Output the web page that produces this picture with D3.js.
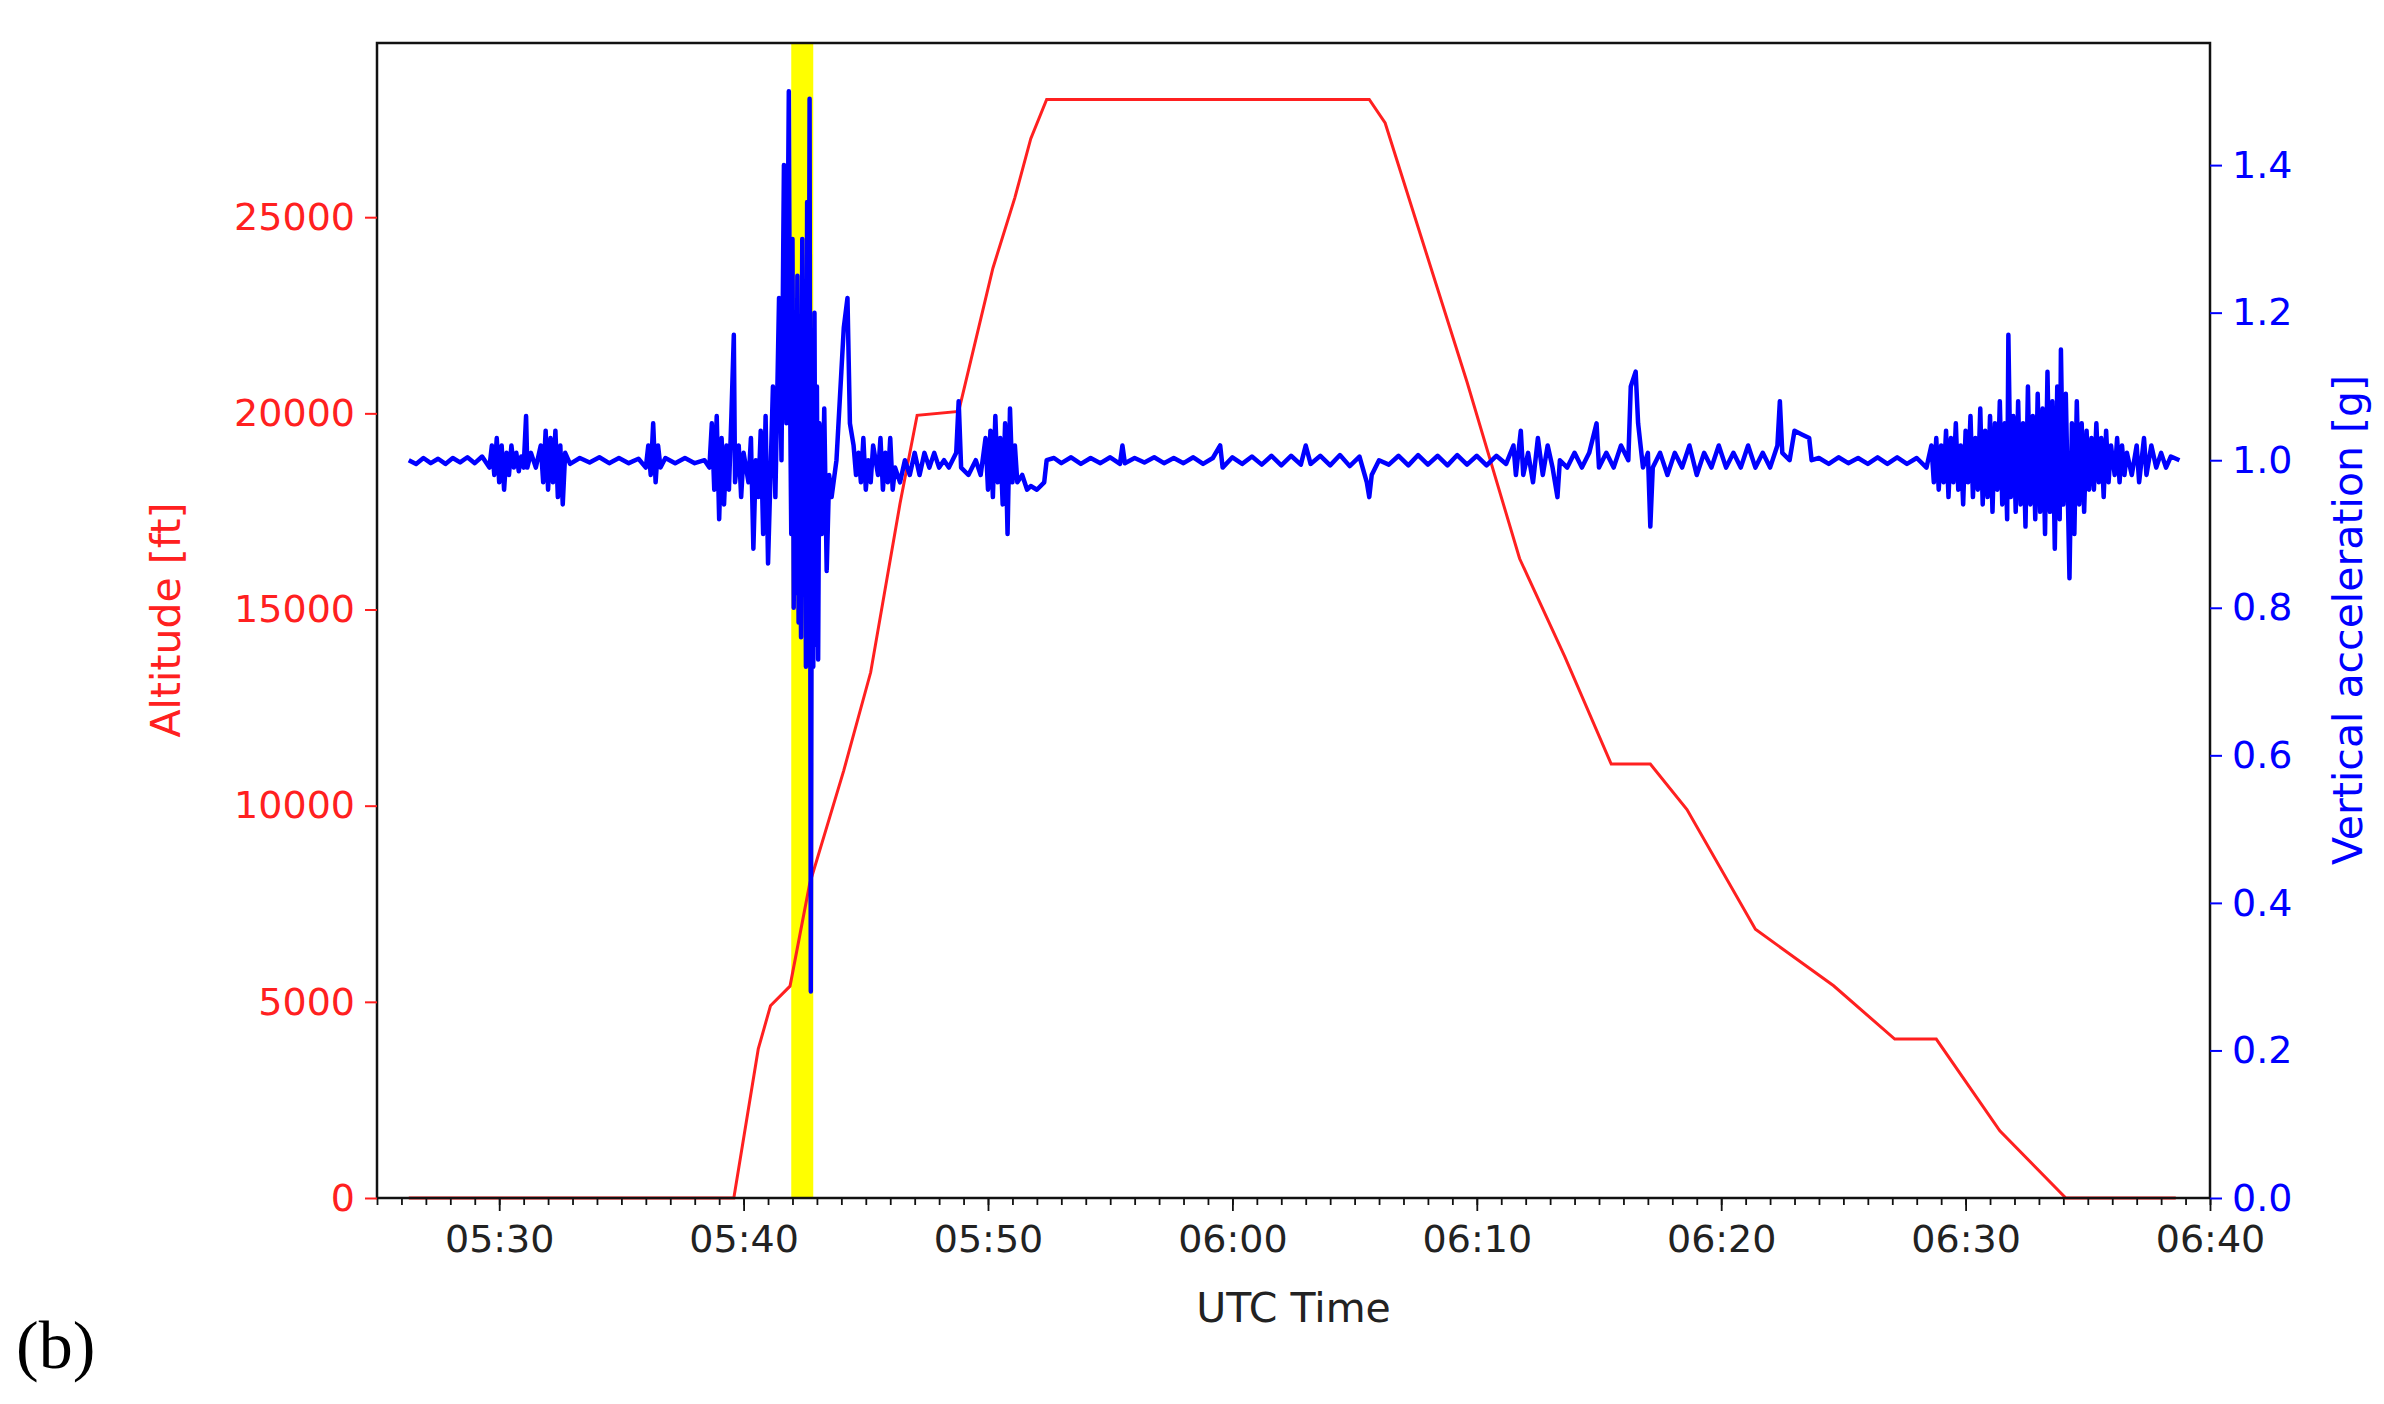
<!DOCTYPE html>
<html><head><meta charset="utf-8">
<script src="https://cdn.jsdelivr.net/npm/d3@7"></script>
<style>body{margin:0;background:#fff}text{font-family:"DejaVu Sans",sans-serif}</style>
</head><body><svg id="c" width="2384" height="1404"></svg>
<script>
// minutes after 05:25 UTC
const altTime = [1.3,14.6,15.6,16.1,16.9,17.7,19.1,20.2,21.4,22.1,23.8,25.2,26.1,26.75,27.4,40.6,41.25,44.6,46.75,48.6,50.5,52.1,53.6,56.4,59.6,62.1,63.8,66.4,69.1,73.6];
const altValue = [0,0,3800,4900,5400,8000,10900,13400,17700,19950,20050,23700,25500,27000,28000,28000,27400,20800,16300,13800,11060,11060,9900,6850,5410,4050,4050,1710,0,0];
const acc = [
[1.3,1.0],[1.6,0.995],[1.9,1.003],[2.2,0.996],[2.5,1.002],[2.8,0.995],[3.1,1.003],[3.4,0.997],[3.7,1.004],[4.0,0.996],[4.3,1.005],[4.6,0.99],[4.7,1.02],[4.8,0.98],[4.9,1.03],[5.0,0.97],[5.1,1.02],[5.2,0.96],[5.3,1.01],[5.4,0.98],[5.5,1.02],[5.6,0.99],[5.7,1.01],[5.8,0.985],[5.9,1.005],[6.0,0.99],[6.1,1.06],[6.15,0.99],[6.3,1.01],[6.5,0.99],[6.7,1.02],[6.8,0.97],[6.9,1.04],[7.0,0.96],[7.1,1.03],[7.2,0.97],[7.3,1.04],[7.4,0.95],[7.5,1.02],[7.6,0.94],[7.7,1.01],[7.9,0.995],[8.3,1.003],[8.7,0.997],[9.1,1.004],[9.5,0.996],[9.9,1.003],[10.3,0.996],[10.7,1.002],[11.0,0.99],[11.1,1.02],[11.2,0.98],[11.3,1.05],[11.4,0.97],[11.5,1.02],[11.6,0.99],[11.8,1.003],[12.2,0.996],[12.6,1.003],[13.0,0.996],[13.4,1.0],[13.6,0.99],[13.7,1.05],[13.8,0.96],[13.9,1.06],[14.0,0.92],[14.1,1.03],[14.2,0.94],[14.3,1.02],[14.4,0.96],[14.5,1.06],[14.6,1.17],[14.65,0.97],[14.8,1.02],[14.9,0.95],[15.0,1.01],[15.2,0.97],[15.3,1.03],[15.4,0.88],[15.5,1.0],[15.6,0.95],[15.7,1.04],[15.8,0.9],[15.9,1.06],[16.0,0.86],[16.1,0.98],[16.2,1.1],[16.3,0.95],[16.45,1.22],[16.55,1.0],[16.65,1.4],[16.75,1.05],[16.85,1.5],[16.9,1.1],[16.95,0.9],[17.0,1.3],[17.05,0.8],[17.1,1.15],[17.15,0.82],[17.2,1.25],[17.25,0.78],[17.3,1.05],[17.35,0.76],[17.4,1.3],[17.45,0.9],[17.5,1.2],[17.55,0.72],[17.6,1.35],[17.65,0.85],[17.7,1.49],[17.75,0.28],[17.8,1.1],[17.85,0.72],[17.9,1.2],[17.95,0.75],[18.0,1.1],[18.05,0.73],[18.1,1.05],[18.2,0.9],[18.3,1.07],[18.4,0.85],[18.5,0.98],[18.6,0.95],[18.8,1.0],[19.0,1.12],[19.1,1.18],[19.25,1.22],[19.35,1.05],[19.5,1.02],[19.6,0.98],[19.7,1.01],[19.8,0.97],[19.9,1.03],[20.0,0.96],[20.1,1.0],[20.2,0.97],[20.3,1.02],[20.5,0.98],[20.6,1.03],[20.7,0.96],[20.8,1.01],[20.9,0.97],[21.0,1.03],[21.1,0.96],[21.2,0.99],[21.4,0.97],[21.6,1.0],[21.8,0.98],[22.0,1.01],[22.2,0.98],[22.4,1.01],[22.6,0.99],[22.8,1.01],[23.0,0.99],[23.2,1.0],[23.4,0.99],[23.7,1.01],[23.8,1.08],[23.9,0.99],[24.2,0.98],[24.5,1.0],[24.7,0.98],[24.9,1.03],[25.0,0.96],[25.1,1.04],[25.2,0.95],[25.3,1.06],[25.4,0.97],[25.5,1.03],[25.6,0.94],[25.7,1.05],[25.8,0.9],[25.9,1.07],[26.0,0.97],[26.1,1.02],[26.2,0.97],[26.4,0.98],[26.6,0.96],[26.75,0.965],[27.0,0.96],[27.3,0.97],[27.4,1.0],[27.7,1.003],[28.0,0.996],[28.4,1.004],[28.8,0.995],[29.2,1.003],[29.6,0.996],[30.0,1.004],[30.4,0.995],[30.5,1.02],[30.6,0.996],[31.0,1.003],[31.4,0.997],[31.8,1.004],[32.2,0.996],[32.6,1.003],[33.0,0.996],[33.4,1.004],[33.8,0.995],[34.2,1.003],[34.5,1.02],[34.6,0.99],[35.0,1.004],[35.4,0.995],[35.8,1.005],[36.2,0.994],[36.6,1.006],[37.0,0.993],[37.4,1.006],[37.8,0.994],[38.0,1.02],[38.2,0.995],[38.6,1.006],[39.0,0.993],[39.4,1.007],[39.8,0.992],[40.2,1.005],[40.5,0.97],[40.6,0.95],[40.7,0.98],[41.0,1.0],[41.4,0.994],[41.8,1.006],[42.2,0.993],[42.6,1.007],[43.0,0.994],[43.4,1.006],[43.8,0.993],[44.2,1.007],[44.6,0.994],[45.0,1.006],[45.4,0.993],[45.8,1.006],[46.2,0.995],[46.5,1.02],[46.6,0.98],[46.8,1.04],[46.9,0.98],[47.1,1.01],[47.3,0.97],[47.5,1.03],[47.7,0.98],[47.9,1.02],[48.1,0.99],[48.3,0.95],[48.4,1.0],[48.7,0.99],[49.0,1.01],[49.3,0.99],[49.6,1.01],[49.9,1.05],[50.0,0.99],[50.3,1.01],[50.6,0.99],[50.9,1.02],[51.2,1.0],[51.3,1.1],[51.5,1.12],[51.6,1.05],[51.8,0.99],[52.0,1.01],[52.1,0.91],[52.2,0.99],[52.5,1.01],[52.8,0.98],[53.1,1.01],[53.4,0.99],[53.7,1.02],[54.0,0.98],[54.3,1.01],[54.6,0.99],[54.9,1.02],[55.2,0.99],[55.5,1.01],[55.8,0.99],[56.1,1.02],[56.4,0.99],[56.7,1.01],[57.0,0.99],[57.3,1.02],[57.4,1.08],[57.5,1.01],[57.8,1.0],[58.0,1.04],[58.3,1.035],[58.6,1.03],[58.7,1.0],[59.0,1.003],[59.4,0.995],[59.8,1.004],[60.2,0.996],[60.6,1.003],[61.0,0.995],[61.4,1.004],[61.8,0.995],[62.2,1.004],[62.6,0.995],[63.0,1.003],[63.4,0.99],[63.6,1.02],[63.7,0.97],[63.8,1.03],[63.9,0.96],[64.0,1.02],[64.1,0.97],[64.2,1.04],[64.3,0.95],[64.4,1.03],[64.5,0.97],[64.6,1.05],[64.7,0.96],[64.8,1.02],[64.9,0.94],[65.0,1.04],[65.1,0.97],[65.2,1.06],[65.3,0.95],[65.4,1.03],[65.5,0.96],[65.6,1.07],[65.7,0.94],[65.8,1.04],[65.9,0.95],[66.0,1.06],[66.1,0.93],[66.2,1.05],[66.3,0.96],[66.4,1.08],[66.5,0.94],[66.6,1.05],[66.7,0.92],[66.75,1.17],[66.85,0.95],[66.95,1.06],[67.05,0.93],[67.15,1.08],[67.25,0.94],[67.35,1.05],[67.45,0.91],[67.55,1.1],[67.65,0.94],[67.75,1.06],[67.85,0.92],[67.95,1.09],[68.05,0.93],[68.15,1.07],[68.25,0.9],[68.35,1.12],[68.45,0.93],[68.55,1.08],[68.65,0.88],[68.75,1.1],[68.85,0.92],[68.9,1.15],[69.0,0.94],[69.1,1.09],[69.25,0.84],[69.35,1.05],[69.45,0.9],[69.55,1.08],[69.65,0.94],[69.75,1.05],[69.85,0.93],[69.95,1.04],[70.05,0.96],[70.15,1.03],[70.25,0.96],[70.35,1.05],[70.45,0.97],[70.55,1.03],[70.65,0.95],[70.75,1.04],[70.85,0.97],[70.95,1.02],[71.1,0.98],[71.2,1.03],[71.3,0.97],[71.4,1.02],[71.5,0.98],[71.6,1.01],[71.8,0.98],[72.0,1.02],[72.1,0.97],[72.3,1.03],[72.4,0.98],[72.6,1.02],[72.8,0.99],[73.0,1.01],[73.2,0.99],[73.4,1.005],[73.75,1.0]
];
const highlight = [16.95, 17.85];
const altTicks = [0,5000,10000,15000,20000,25000];
const accTicks = [0,0.2,0.4,0.6,0.8,1.0,1.2,1.4];

const base = new Date(2000,0,1,5,25);
const T = m => new Date(base.getTime()+m*60000);
const L=377,R=2210,Tp=43,B=1198;
const svg=d3.select("#c");
const x=d3.scaleTime().domain([T(0),T(75)]).range([L,R]);
const yA=d3.scaleLinear().domain([0,29440]).range([B,Tp]);
const yG=d3.scaleLinear().domain([0,1.5655]).range([B,Tp]);

svg.append("rect").attr("x",x(T(highlight[0]))).attr("y",Tp).attr("width",x(T(highlight[1]))-x(T(highlight[0]))).attr("height",B-Tp).attr("fill","#ffff00");

svg.append("path").datum(altTime.map((t,i)=>[t,altValue[i]]))
 .attr("d",d3.line().x(d=>x(T(d[0]))).y(d=>yA(d[1]))).attr("fill","none").attr("stroke","#ff2020").attr("stroke-width",3);
svg.append("path").datum(acc)
 .attr("d",d3.line().x(d=>x(T(d[0]))).y(d=>yG(d[1]))).attr("fill","none").attr("stroke","#0000ff").attr("stroke-width",4.5).attr("stroke-linejoin","round");

svg.append("rect").attr("x",L).attr("y",Tp).attr("width",R-L).attr("height",B-Tp).attr("fill","none").attr("stroke","#111").attr("stroke-width",2.5);

const fmt=d3.timeFormat("%H:%M");
const gx=svg.append("g").attr("transform",`translate(0,${B})`);
gx.call(d3.axisBottom(x).ticks(d3.timeMinute.every(1)).tickSize(7).tickFormat(""));
const gx2=svg.append("g").attr("transform",`translate(0,${B})`);
gx2.call(d3.axisBottom(x).tickValues(d3.range(5,76,10).map(T)).tickSize(13).tickPadding(14).tickFormat(fmt));
[gx,gx2].forEach(g=>{g.select(".domain").remove();g.selectAll("line").attr("stroke","#111").attr("stroke-width",1.8);});
gx2.selectAll("text").attr("font-size",38).attr("fill","#222");

const gl=svg.append("g").attr("transform",`translate(${L},0)`).call(d3.axisLeft(yA).tickValues(altTicks).tickSize(12).tickPadding(10).tickFormat(d3.format("d")));
gl.select(".domain").remove();
gl.selectAll("line").attr("stroke","#ff2020").attr("stroke-width",2);
gl.selectAll("text").attr("font-size",38).attr("fill","#ff2020");
const gr=svg.append("g").attr("transform",`translate(${R},0)`).call(d3.axisRight(yG).tickValues(accTicks).tickSize(12).tickPadding(10).tickFormat(d3.format(".1f")));
gr.select(".domain").remove();
gr.selectAll("line").attr("stroke","#0000ff").attr("stroke-width",2);
gr.selectAll("text").attr("font-size",38).attr("fill","#0000ff");

svg.append("text").attr("x",(L+R)/2).attr("y",1322).attr("text-anchor","middle").attr("font-size",41).attr("fill","#222").text("UTC Time");
svg.append("text").attr("transform","translate(180,620) rotate(-90)").attr("text-anchor","middle").attr("font-size",41).attr("fill","#ff2020").text("Altitude [ft]");
svg.append("text").attr("transform","translate(2362,620) rotate(-90)").attr("text-anchor","middle").attr("font-size",41).attr("fill","#0000ff").text("Vertical acceleration [g]");
svg.append("text").attr("x",16).attr("y",1368).attr("font-size",68).attr("fill","#000").style("font-family","'Liberation Serif',serif").text("(b)");
</script></body></html>
